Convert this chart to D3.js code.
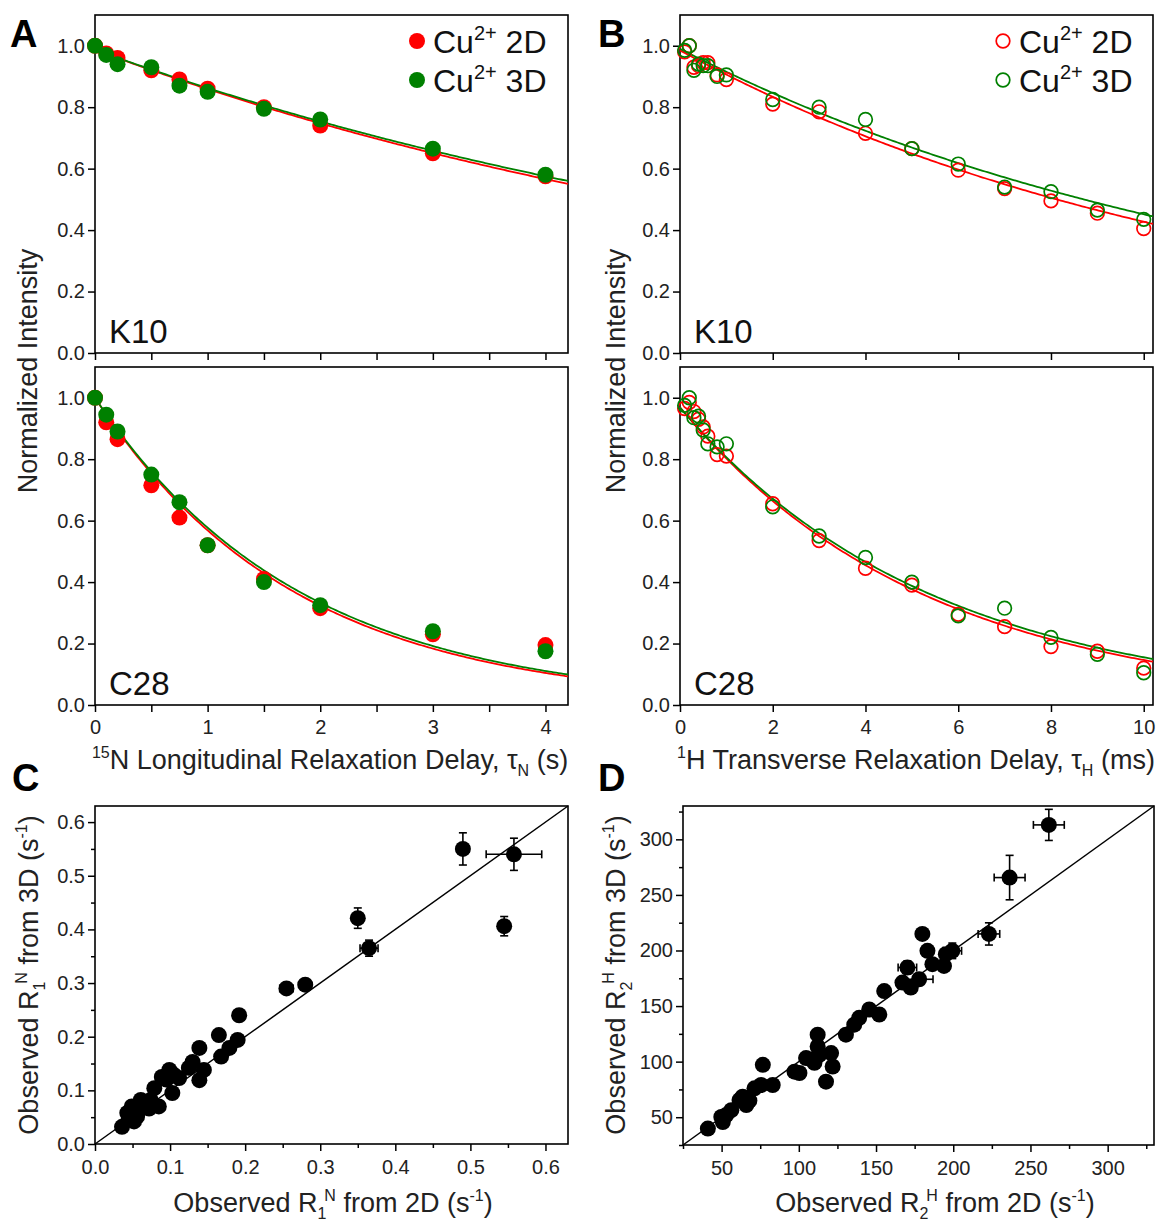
<!DOCTYPE html>
<html>
<head>
<meta charset="utf-8">
<script src="https://cdn.jsdelivr.net/npm/d3@7"></script>
<style>
  body { margin: 0; background: #fff; }
  svg text { font-family: "Liberation Sans", Arial, Helvetica, sans-serif; }
</style>
</head>
<body>
<svg id="fig" width="1157" height="1221"></svg>
<script>
// ---------- 15N longitudinal relaxation (panel A) ----------
const delayN = [0, 0.1, 0.2, 0.5, 0.75, 1, 1.5, 2, 3, 4];            // s
const k10N2D = [1.0, 0.975, 0.96, 0.92, 0.89, 0.86, 0.80, 0.74, 0.65, 0.575];
const k10N3D = [1.0, 0.97, 0.94, 0.93, 0.87, 0.85, 0.795, 0.76, 0.665, 0.58];
const c28N2D = [1.0, 0.92, 0.865, 0.715, 0.61, 0.52, 0.41, 0.315, 0.23, 0.195];
const c28N3D = [1.0, 0.945, 0.89, 0.75, 0.66, 0.52, 0.40, 0.325, 0.24, 0.175];
// mono-exponential fits: [amplitude, rate (1/s)]
const fitK10N2D = [0.987, 0.139];
const fitK10N3D = [0.987, 0.135];
const fitC28N2D = [1.0, 0.565];
const fitC28N3D = [1.0, 0.550];

// ---------- 1H transverse relaxation (panel B) ----------
const delayH = [0.1, 0.2, 0.3, 0.4, 0.5, 0.6, 0.8, 1, 2, 3, 4, 5, 6, 7, 8, 9, 10]; // ms
const k10H2D = [0.98, 1.0, 0.93, 0.935, 0.945, 0.945, 0.905, 0.89, 0.81, 0.785, 0.715, 0.665, 0.595, 0.535, 0.495, 0.455, 0.405];
const k10H3D = [0.985, 1.0, 0.92, 0.94, 0.935, 0.935, 0.90, 0.905, 0.825, 0.80, 0.76, 0.665, 0.615, 0.54, 0.525, 0.465, 0.435];
const c28H2D = [0.965, 0.985, 0.955, 0.93, 0.905, 0.875, 0.815, 0.81, 0.655, 0.535, 0.445, 0.39, 0.295, 0.255, 0.19, 0.175, 0.12];
const c28H3D = [0.975, 1.0, 0.935, 0.94, 0.895, 0.85, 0.84, 0.85, 0.645, 0.55, 0.48, 0.40, 0.29, 0.315, 0.22, 0.165, 0.105];
// [amplitude, rate (1/ms)]
const fitK10H2D = [0.985, 0.0835];
const fitK10H3D = [0.99, 0.0785];
const fitC28H2D = [0.969, 0.189];
const fitC28H3D = [0.968, 0.183];

// ---------- R1N correlation (panel C) ----------
const r1N2D = [0.036,0.045,0.052,0.056,0.043,0.049,0.053,0.058,0.061,0.065,0.069,0.072,0.074,0.085,0.079,0.103,0.089,0.099,0.105,0.112,0.095,0.125,0.139,0.145,0.130,0.139,0.168,0.179,0.190,0.165,0.192,0.255,0.280,0.350,0.365,0.490,0.545,0.558];
const r1N3D = [0.032,0.048,0.042,0.051,0.058,0.070,0.065,0.062,0.082,0.073,0.070,0.066,0.082,0.070,0.104,0.095,0.125,0.138,0.129,0.123,0.120,0.142,0.119,0.138,0.153,0.179,0.163,0.179,0.194,0.203,0.240,0.290,0.297,0.421,0.365,0.550,0.406,0.540];
const r1N2DErr = [0,0,0,0,0,0,0,0,0,0,0,0,0,0,0,0,0,0,0,0,0,0,0,0,0,0,0,0,0,0,0,0.009,0,0.004,0.012,0.008,0.004,0.037];
const r1N3DErr = [0,0,0,0,0,0,0,0,0,0,0,0,0,0,0,0,0,0,0,0,0,0,0,0,0,0,0,0,0,0,0,0.004,0,0.019,0.015,0.030,0.018,0.030];

// ---------- R2H correlation (panel D) ----------
const r2H2D = [41.1,50.8,49.8,53,56.3,61.6,66,63.6,68,71.3,75.6,83.1,76.7,97.2,100.4,104.7,110.1,108,113.3,112.2,112.2,120.9,121.9,117.6,130.5,135.9,139.1,145.6,152.1,155.3,167.1,172.5,170.3,177.9,180,183.3,186.5,194,195.2,199.4,223.1,236.5,261.9];
const r2H3D = [39.8,45.7,50.3,52,56.3,65.4,61,68.4,65,76,79,79,97.1,91,89.8,103.2,99,102,106.2,113.7,124.3,107.7,95.6,82,124.3,133.3,139.4,146.9,142.4,163.5,171.1,166.6,184.7,174.1,214.9,199.7,187.7,186.1,196.7,199.7,214.9,265.6,313];
const r2H2DErr = [0,0,0,0,0,0,0,0,0,0,0,0,0,0,0,0,0,0,0,0,0,0,0,0,0,0,0,0,0,0,0,0,6,9,0,0,0,0,0,6,7,10,10];
const r2H3DErr = [0,0,0,0,0,0,0,0,0,0,0,0,0,0,0,0,0,0,0,0,0,0,0,0,0,0,0,0,0,0,0,0,6,4,0,0,0,0,0,7,10,20,14];

// ---------- tick values ----------
const intensityTicks = [0, 0.2, 0.4, 0.6, 0.8, 1.0];
const delayNTicks = [0, 0.5, 1, 1.5, 2, 2.5, 3, 3.5, 4];
const delayHTicks = [0, 2, 4, 6, 8, 10];
const r1Major = [0, 0.1, 0.2, 0.3, 0.4, 0.5, 0.6];
const r1Minor = [0.05, 0.15, 0.25, 0.35, 0.45, 0.55];
const r2Major = [50, 100, 150, 200, 250, 300];
const r2Minor = [25, 75, 125, 175, 225, 275, 325];

const RED = "#ff0000", GREEN = "#008000";
const svg = d3.select("#fig");

function panel(x0, x1, y0, y1, xDom, yDom) {
  const x = d3.scaleLinear().domain(xDom).range([x0, x1]);
  const y = d3.scaleLinear().domain(yDom).range([y1, y0]);
  const g = svg.append("g");
  return { g, x, y };
}

function frame(p) {
  const [a, b] = p.x.range(), [c, d] = p.y.range();
  p.g.append("rect").attr("x", a).attr("y", d).attr("width", b - a).attr("height", c - d)
    .attr("fill", "none").attr("stroke", "#000").attr("stroke-width", 1.6);
}

function axis(p, side, values, size, fmt, pad) {
  const isX = side === "bottom";
  const ax = (isX ? d3.axisBottom(p.x) : d3.axisLeft(p.y))
    .tickValues(values).tickSize(size).tickPadding(pad).tickFormat(fmt);
  const at = isX ? `translate(0,${p.y.range()[0]})` : `translate(${p.x.range()[0]},0)`;
  const a = p.g.append("g").attr("transform", at).call(ax);
  a.select(".domain").remove();
  a.selectAll("line").attr("stroke", "#000").attr("stroke-width", 1.5);
  a.selectAll("text").attr("font-size", 20).attr("fill", "#222")
    .attr("font-family", '"Liberation Sans", Arial, sans-serif');
}

function fitCurve(p, params, color) {
  const [amp, rate] = params;
  const [d0, d1] = p.x.domain();
  const pts = d3.range(0, 201).map(i => d0 + (d1 - d0) * i / 200);
  const line = d3.line().x(t => p.x(t)).y(t => p.y(amp * Math.exp(-rate * t)));
  p.g.append("path").datum(pts).attr("d", line)
    .attr("fill", "none").attr("stroke", color).attr("stroke-width", 1.8);
}

function dots(p, xs, ys, color, open) {
  p.g.append("g").selectAll("circle").data(xs).join("circle")
    .attr("cx", d => p.x(d)).attr("cy", (d, i) => p.y(ys[i]))
    .attr("r", open ? 6.8 : 8)
    .attr("fill", open ? "none" : color)
    .attr("stroke", open ? color : "none")
    .attr("stroke-width", open ? 1.7 : 0);
}

function label(p, txt) {
  p.g.append("text").attr("x", p.x.range()[0] + 14).attr("y", p.y.range()[0] - 10)
    .attr("font-size", 33).attr("fill", "#111").text(txt);
}

function legend(x, y, open) {
  const rows = [[RED, 0], [GREEN, 39]];
  rows.forEach(([c, dy]) => {
    svg.append("circle").attr("cx", x).attr("cy", y + dy).attr("r", open ? 6.8 : 8)
      .attr("fill", open ? "none" : c).attr("stroke", open ? c : "none").attr("stroke-width", 1.7);
    const t = svg.append("text").attr("x", x + 16).attr("y", y + dy + 12).attr("font-size", 32).attr("fill", "#111");
    t.append("tspan").text("Cu");
    t.append("tspan").attr("font-size", 20).attr("dy", -13).text("2+");
    t.append("tspan").attr("dy", 13).text(dy === 0 ? " 2D" : " 3D");
  });
}

// ================= Panel A =================
const aTop = panel(95, 568, 15, 353, [0, 4.2], [0, 1.1]);
frame(aTop);
axis(aTop, "left", intensityTicks, 7, d3.format(".1f"), 3);
axis(aTop, "bottom", delayNTicks, 7, () => "", 8);
fitCurve(aTop, fitK10N2D, RED);
fitCurve(aTop, fitK10N3D, GREEN);
dots(aTop, delayN, k10N2D, RED, false);
dots(aTop, delayN, k10N3D, GREEN, false);
label(aTop, "K10");

const aBot = panel(95, 568, 367, 705, [0, 4.2], [0, 1.1]);
frame(aBot);
axis(aBot, "left", intensityTicks, 7, d3.format(".1f"), 3);
axis(aBot, "bottom", delayNTicks, 7, d => Number.isInteger(d) ? d : "", 8);
fitCurve(aBot, fitC28N2D, RED);
fitCurve(aBot, fitC28N3D, GREEN);
dots(aBot, delayN, c28N2D, RED, false);
dots(aBot, delayN, c28N3D, GREEN, false);
label(aBot, "C28");
legend(417, 41, false);

// ================= Panel B =================
const bTop = panel(680, 1153, 15, 353, [0, 10.2], [0, 1.1]);
frame(bTop);
axis(bTop, "left", intensityTicks, 7, d3.format(".1f"), 3);
axis(bTop, "bottom", delayHTicks, 7, () => "", 8);
fitCurve(bTop, fitK10H2D, RED);
fitCurve(bTop, fitK10H3D, GREEN);
dots(bTop, delayH, k10H2D, RED, true);
dots(bTop, delayH, k10H3D, GREEN, true);
label(bTop, "K10");

const bBot = panel(680, 1153, 367, 705, [0, 10.2], [0, 1.1]);
frame(bBot);
axis(bBot, "left", intensityTicks, 7, d3.format(".1f"), 3);
axis(bBot, "bottom", delayHTicks, 7, d3.format("d"), 8);
fitCurve(bBot, fitC28H2D, RED);
fitCurve(bBot, fitC28H3D, GREEN);
dots(bBot, delayH, c28H2D, RED, true);
dots(bBot, delayH, c28H3D, GREEN, true);
label(bBot, "C28");
legend(1003, 41, true);

// ================= Correlation panels =================
function scatter(p, xs, ys, xe, ye) {
  const [d0, d1] = p.x.domain();
  p.g.append("line").attr("x1", p.x(d0)).attr("y1", p.y(d0)).attr("x2", p.x(d1)).attr("y2", p.y(d1))
    .attr("stroke", "#000").attr("stroke-width", 1.5);
  const eb = p.g.append("g").attr("stroke", "#000").attr("stroke-width", 1.6);
  const cap = 4;
  xs.forEach((xv, i) => {
    const cx = p.x(xv), cy = p.y(ys[i]);
    if (xe[i] > 0) {
      const l = p.x(xv - xe[i]), r = p.x(xv + xe[i]);
      eb.append("line").attr("x1", l).attr("x2", r).attr("y1", cy).attr("y2", cy);
      eb.append("line").attr("x1", l).attr("x2", l).attr("y1", cy - cap).attr("y2", cy + cap);
      eb.append("line").attr("x1", r).attr("x2", r).attr("y1", cy - cap).attr("y2", cy + cap);
    }
    if (ye[i] > 0) {
      const t = p.y(ys[i] + ye[i]), b = p.y(ys[i] - ye[i]);
      eb.append("line").attr("x1", cx).attr("x2", cx).attr("y1", t).attr("y2", b);
      eb.append("line").attr("x1", cx - cap).attr("x2", cx + cap).attr("y1", t).attr("y2", t);
      eb.append("line").attr("x1", cx - cap).attr("x2", cx + cap).attr("y1", b).attr("y2", b);
    }
  });
  p.g.append("g").selectAll("circle").data(xs).join("circle")
    .attr("cx", d => p.x(d)).attr("cy", (d, i) => p.y(ys[i])).attr("r", 8).attr("fill", "#000");
}

const pc = panel(95, 568, 806, 1144, [0, 0.63], [0, 0.63]);
frame(pc);
axis(pc, "left", r1Minor, 4, () => "", 3);
axis(pc, "left", r1Major, 7, d3.format(".1f"), 3);
axis(pc, "bottom", r1Minor, 4, () => "", 10);
axis(pc, "bottom", r1Major, 7, d3.format(".1f"), 9);
scatter(pc, r1N2D, r1N3D, r1N2DErr, r1N3DErr);

const pd = panel(683, 1154, 806, 1145, [25, 330], [25, 330]);
frame(pd);
axis(pd, "left", r2Minor, 4, () => "", 3);
axis(pd, "left", r2Major, 7, d3.format("d"), 3);
axis(pd, "bottom", r2Minor, 4, () => "", 10);
axis(pd, "bottom", r2Major, 7, d3.format("d"), 9);
scatter(pd, r2H2D, r2H3D, r2H2DErr, r2H3DErr);

// ================= Titles and panel letters =================
function rich(x, y, parts, rotate) {
  const t = svg.append("text").attr("x", x).attr("y", y).attr("text-anchor", "middle")
    .attr("font-size", 27).attr("fill", "#222");
  if (rotate) t.attr("transform", `rotate(-90,${x},${y})`);
  parts.forEach(([s, kind, dx]) => {
    const sp = t.append("tspan").text(s);
    if (kind === "sup") sp.attr("font-size", 16).attr("dy", -11);
    else if (kind === "sub") sp.attr("font-size", 16).attr("dy", 7);
    else if (kind === "upAfterSub") sp.attr("dy", -7);
    else if (kind === "downAfterSup") sp.attr("dy", 11);
    if (kind === "subThenSup") sp.attr("font-size", 16).attr("dy", -18);
    if (dx) sp.attr("dx", dx);
  });
}

rich(330, 769, [["15", "sup"], ["N Longitudinal Relaxation Delay, τ", "downAfterSup"], ["N", "sub"], [" (s)", "upAfterSub"]]);
rich(916, 769, [["1", "sup"], ["H Transverse Relaxation Delay, τ", "downAfterSup"], ["H", "sub"], [" (ms)", "upAfterSub"]]);
rich(37, 371, [["Normalized Intensity", null]], true);
rich(625, 371, [["Normalized Intensity", null]], true);

rich(333, 1212, [["Observed R", null], ["1", "sub"], ["N", "subThenSup", -2], [" from 2D (s", "downAfterSup"], ["-1", "sup"], [")", "downAfterSup"]]);
rich(935, 1212, [["Observed R", null], ["2", "sub"], ["H", "subThenSup", -2], [" from 2D (s", "downAfterSup"], ["-1", "sup"], [")", "downAfterSup"]]);
rich(38, 975, [["Observed R", null], ["1", "sub"], ["N", "subThenSup", -2], [" from 3D (s", "downAfterSup"], ["-1", "sup"], [")", "downAfterSup"]], true);
rich(625, 975, [["Observed R", null], ["2", "sub"], ["H", "subThenSup", -2], [" from 3D (s", "downAfterSup"], ["-1", "sup"], [")", "downAfterSup"]], true);

[["A", 10, 47], ["B", 598, 47], ["C", 12, 791], ["D", 598, 791]].forEach(([s, x, y]) => {
  svg.append("text").attr("x", x).attr("y", y).attr("font-size", 38).attr("font-weight", "bold")
    .attr("fill", "#000").text(s);
});
</script>
</body>
</html>
